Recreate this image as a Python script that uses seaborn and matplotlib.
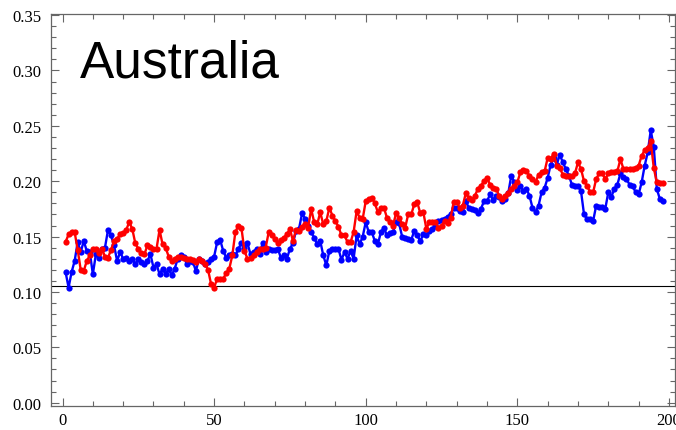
import numpy as np
import pandas as pd
import seaborn as sns
import matplotlib.pyplot as plt
from matplotlib.ticker import MultipleLocator, FormatStrFormatter

# DATA
blue_values = [
    0.118, 0.104, 0.118, 0.128, 0.145, 0.136, 0.146, 0.137, 0.136, 0.116,
    0.134, 0.131, 0.139, 0.140, 0.156, 0.151, 0.142, 0.128, 0.136, 0.130,
    0.131, 0.128, 0.130, 0.125, 0.130, 0.127, 0.125, 0.128, 0.134, 0.122,
    0.125, 0.116,
    0.121, 0.116, 0.121, 0.115, 0.121, 0.130, 0.133, 0.132, 0.125, 0.128,
    0.127, 0.119, 0.130, 0.128, 0.125, 0.127, 0.130, 0.132, 0.145, 0.147,
    0.137, 0.131, 0.133, 0.134, 0.133, 0.139, 0.144, 0.140, 0.144, 0.134,
    0.136, 0.139,
    0.134, 0.144, 0.136, 0.139, 0.138, 0.138, 0.139, 0.131, 0.133, 0.130,
    0.139, 0.144, 0.155, 0.157, 0.171, 0.166, 0.160, 0.154, 0.149, 0.143,
    0.146, 0.133, 0.124, 0.137, 0.139, 0.139, 0.139, 0.129, 0.136, 0.130,
    0.137, 0.130, 0.151,
    0.143, 0.150, 0.163, 0.154, 0.154, 0.146, 0.143, 0.154, 0.158, 0.151,
    0.153, 0.154, 0.163, 0.162, 0.150, 0.149, 0.148, 0.147, 0.155, 0.151,
    0.146, 0.152, 0.151, 0.155, 0.157, 0.160, 0.164, 0.165, 0.166, 0.168,
    0.170, 0.176,
    0.176, 0.173, 0.172, 0.182, 0.176, 0.175, 0.174, 0.171, 0.175, 0.182,
    0.182, 0.188, 0.183, 0.187, 0.186, 0.182, 0.184, 0.189, 0.205, 0.199,
    0.192, 0.196, 0.191, 0.193, 0.187, 0.176, 0.172, 0.178, 0.190, 0.194,
    0.203, 0.215, 0.221,
    0.215, 0.224, 0.217, 0.211, 0.205, 0.197, 0.196, 0.196, 0.191, 0.170,
    0.166, 0.166, 0.164, 0.178, 0.177, 0.177, 0.175, 0.190, 0.186, 0.193,
    0.197, 0.207, 0.204, 0.202, 0.197, 0.196, 0.190, 0.188, 0.199, 0.214,
    0.226, 0.246, 0.231, 0.193, 0.184, 0.182,
]

red_values = [
    0.145, 0.152, 0.154, 0.154, 0.138, 0.120, 0.119, 0.128, 0.133, 0.139,
    0.139, 0.135, 0.139, 0.132, 0.131, 0.138, 0.146, 0.148, 0.152, 0.153,
    0.156, 0.163, 0.157, 0.144, 0.139, 0.135, 0.134, 0.142, 0.141, 0.139,
    0.139, 0.156,
    0.143, 0.140, 0.132, 0.128, 0.130, 0.132, 0.132, 0.131, 0.130, 0.130,
    0.129, 0.127, 0.130, 0.128, 0.125, 0.120, 0.107, 0.104, 0.112, 0.112,
    0.112, 0.117, 0.121, 0.133, 0.154, 0.160, 0.158, 0.137, 0.130, 0.131,
    0.133, 0.136,
    0.139, 0.139, 0.140, 0.154, 0.151, 0.148, 0.144, 0.147, 0.149, 0.152,
    0.157, 0.146, 0.156, 0.155, 0.159, 0.161, 0.158, 0.175, 0.163, 0.161,
    0.172, 0.161, 0.164, 0.176, 0.169, 0.164, 0.159, 0.151, 0.151, 0.145,
    0.145, 0.154, 0.173,
    0.167, 0.166, 0.182, 0.184, 0.185, 0.180, 0.172, 0.176, 0.176, 0.167,
    0.163, 0.160, 0.171, 0.167, 0.161, 0.158, 0.170, 0.170, 0.179, 0.181,
    0.171, 0.172, 0.157, 0.163, 0.163, 0.163, 0.158, 0.160, 0.164, 0.162,
    0.167, 0.181,
    0.181, 0.176, 0.178, 0.189, 0.185, 0.183, 0.187, 0.193, 0.196, 0.200,
    0.203, 0.197, 0.194, 0.193, 0.187, 0.184, 0.187, 0.189, 0.193, 0.196,
    0.199, 0.208, 0.210, 0.209, 0.205, 0.202, 0.199, 0.206, 0.208, 0.209,
    0.221, 0.220, 0.225,
    0.214, 0.212, 0.206, 0.205, 0.205, 0.205, 0.207, 0.217, 0.211, 0.200,
    0.196, 0.190, 0.190, 0.202, 0.207, 0.207, 0.202, 0.207, 0.208, 0.208,
    0.209, 0.220, 0.211, 0.211, 0.211, 0.211, 0.212, 0.214, 0.223, 0.228,
    0.230, 0.236, 0.212, 0.199, 0.198, 0.198,
]

baseline_value = 0.105
title_text = "Australia"

steps = np.arange(1, len(blue_values) + 1)

df = pd.DataFrame({
    'step': steps,
    'blue': blue_values,
    'red': red_values,
})

# STYLE
sns.set_style("ticks")
plt.rcParams['text.color'] = 'black'
plt.rcParams['xtick.labelcolor'] = 'black'
plt.rcParams['ytick.labelcolor'] = 'black'

fig = plt.figure(figsize=(6.76, 4.31), dpi=100)
ax = fig.add_axes([51 / 676, 24 / 431, 624 / 676, 392 / 431])

line_kw = dict(
    marker='o',
    markersize=4.5,
    markeredgewidth=0,
    linewidth=1.7,
    estimator=None,
    ax=ax,
)

sns.lineplot(data=df, x='step', y='blue', color='#0000ff', **line_kw)
sns.lineplot(data=df, x='step', y='red', color='#ff0000', **line_kw)

ax.axhline(baseline_value, color='black', linewidth=0.8, zorder=0)

ax.set_xlim(-3.8, 202)
ax.set_ylim(-0.003, 0.351)

ax.xaxis.set_major_locator(MultipleLocator(50))
ax.xaxis.set_minor_locator(MultipleLocator(10))
ax.yaxis.set_major_locator(MultipleLocator(0.05))
ax.yaxis.set_minor_locator(MultipleLocator(0.01))
ax.yaxis.set_major_formatter(FormatStrFormatter('%.2f'))

ax.set_xlabel("")
ax.set_ylabel("")

for spine in ax.spines.values():
    spine.set_visible(True)
    spine.set_color('#666666')
    spine.set_linewidth(0.9)

ax.tick_params(which='both', direction='in', top=True, right=True,
               color='#666666', width=0.8, labelcolor='black')
ax.tick_params(which='major', length=6)
ax.tick_params(which='minor', length=3.5)
ax.tick_params(axis='y', which='major', pad=7)
ax.tick_params(axis='x', which='major', pad=4)

for label in ax.get_xticklabels() + ax.get_yticklabels():
    label.set_fontfamily('Liberation Serif')
    label.set_fontsize(12)

ax.text(0.046, 0.84, title_text, transform=ax.transAxes, color='black',
        fontfamily='Liberation Sans', fontsize=37, va='baseline', ha='left')

fig.savefig("out.png", dpi=100)
